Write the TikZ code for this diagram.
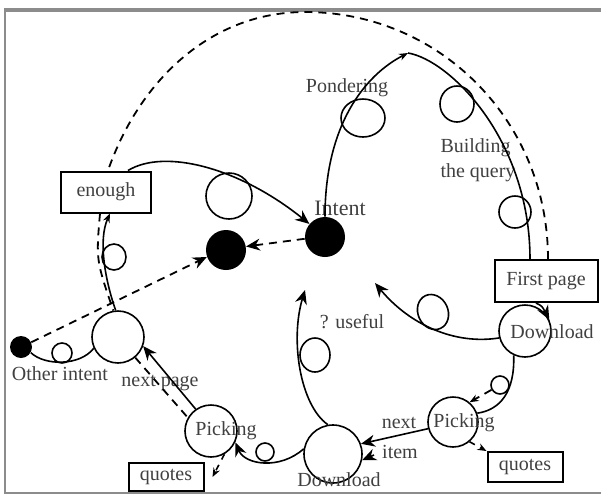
\documentclass[tikz,border=0pt]{standalone}
\usepackage{fontspec}
\setmainfont{Liberation Serif}
\usetikzlibrary{arrows.meta,shapes.geometric}
\begin{document}
\begin{tikzpicture}[x=0.5pt,y=-0.5pt,
  sl/.style={line width=0.8pt},
  tip/.style={-{Stealth[length=7pt,width=6pt]}},
  smalltip/.style={-{Stealth[length=4.5pt,width=3.5pt]}},
  dsh/.style={line width=0.9pt,dash pattern=on 4pt off 3pt},
  lbl/.style={font=\fontsize{10}{12.5}\selectfont,text=black!75,inner sep=0pt},
  dot/.style={circle,fill=black,inner sep=0pt},
  ring/.style={circle,draw,line width=0.8pt,inner sep=0pt},
  lp/.style={ellipse,draw,line width=0.8pt,inner sep=0pt},
  box/.style={rectangle,draw,line width=1pt,inner sep=0pt,font=\fontsize{10}{12}\selectfont,text=black!75},
  frame/.style={draw=black!45}
]
\useasboundingbox (0,0) rectangle (601,495);
% frame
\draw[frame,line width=2pt] (4,10) -- (601,10);
\draw[frame,line width=1pt] (5,10) -- (5,493) -- (601,493);

% nodes
\node[dot,minimum size=20pt] (intent) at (325,237) {};
\node[lbl,font=\fontsize{11}{13}\selectfont] (intentl) at (340,208) {Intent};
\node[dot,minimum size=20pt] (goal) at (226,250) {};
\node[dot,minimum size=11pt] (other) at (21,347) {};
\node[lbl] (otherl) at (60,374) {Other intent};
\node[ring,minimum size=26pt] (c0) at (118,337) {};
\node[ring,minimum size=26pt] (pickL) at (211,431) {};
\node[lbl] (pickLl) at (226,431) {Picking};
\node[ring,minimum size=29pt] (dlB) at (333,454) {};
\node[lbl] (dlBl) at (339,480) {Download};
\node[ring,minimum size=25pt] (pickR) at (453,422) {};
\node[lbl] (pickRl) at (464,423) {Picking};
\node[ring,minimum size=26pt] (dlR) at (525,331) {};
\node[lbl] (dlRl) at (552,332) {Download};

\node[box,minimum width=45pt,minimum height=20.5pt,fill=white] (enough) at (106,192) {enough};
\node[box,minimum width=51.5pt,minimum height=21pt,fill=white] (first) at (546,281) {First page};
\node[box,minimum width=37.5pt,minimum height=14pt] (quotesL) at (166,477) {quotes};
\node[box,minimum width=37.5pt,minimum height=15pt] (quotesR) at (525,467) {quotes};

% labels
\node[lbl] (ponder) at (347,88) {Pondering};
\node[lbl,align=left] (build) at (478,160) {Building\\the query};
\node[lbl] (nextpage) at (160,383) {next page};
\node[lbl] (useful) at (352,322) {? useful};
\node[lbl] (nextl) at (399,423) {next};
\node[lbl] (iteml) at (400,452) {item};

% small loops
\node[lp,minimum width=23pt,minimum height=23pt] (lp1) at (229,196) {};
\node[lp,minimum width=22pt,minimum height=19pt] (lp2) at (363,118) {};
\node[lp,minimum width=17pt,minimum height=18pt] (lp3) at (457,104) {};
\node[lp,minimum width=16pt,minimum height=16pt] (lp4) at (515,212) {};
\node[lp,minimum width=12pt,minimum height=13pt] (lp5) at (114,257) {};
\node[lp,minimum width=10pt,minimum height=10pt] (lp6) at (62,353) {};
\node[lp,minimum width=15pt,minimum height=17pt] (lp7) at (315,355) {};
\node[lp,minimum width=15pt,minimum height=18pt,rotate=25] (lp8) at (433,312) {};
\node[lp,minimum width=9pt,minimum height=9pt] (lp9) at (500,385) {};
\node[lp,minimum width=9pt,minimum height=9pt] (lp10) at (265,452) {};

% free coordinates
\coordinate (top) at (408,53);
\coordinate (dtop) at (305,12);
\coordinate (u1) at (375,283);
\coordinate (u2) at (305,290);
\coordinate (it0) at (374,455);

% big dashed loop
\draw[dsh] ([xshift=1pt]first.north) .. controls (548,121) and (440,12) .. (dtop)
  .. controls (212,12) and (140,79) .. ([xshift=1pt]enough.north);
\draw[dsh] ([xshift=-3pt]enough.south) .. controls (96,260) .. (c0.100);
\draw[dsh] (c0.-50) -- (pickL.150);
\draw[dsh,tip] (other.25) -- (goal.200);
\draw[dsh,tip] (intent.185) -- (goal.10);
\draw[dsh,smalltip] (lp9) -- (pickR.50);
\draw[sl,dashed,smalltip] (pickL.-60) -- ([xshift=4pt]quotesL.east);
\draw[sl,dashed,smalltip] (pickR.-50) -- (quotesR.north west);

% solid curves
\draw[sl,tip] ([xshift=11pt]enough.north) .. controls (165,148) and (240,168) .. (intent.140);
\draw[sl,smalltip] (intent.north) .. controls (325,125) and (365,75) .. (top);
\draw[sl] (top) .. controls (450,60) and (530,140) .. ([xshift=-8pt]first.north);
\draw[sl,tip] ([xshift=-5pt]first.south) .. controls (542,306) .. (dlR.25);
\draw[sl,tip] (dlR.195) .. controls (455,345) and (410,325) .. (u1);
\draw[sl] (dlR.245) .. controls (515,392) and (500,410) .. (pickR.20);
\draw[sl,tip] (pickR.195) -- (dlB.20);
\draw[sl,tip] (it0) -- (dlB.-12);
\draw[sl,tip] (dlB.100) .. controls (300,405) and (290,340) .. (u2);
\draw[sl,tip] (dlB.170) .. controls (280,470) and (245,465) .. (pickL.-25);
\draw[sl,tip] (pickL.125) -- (c0.-20);
\draw[sl,smalltip] (c0.95) .. controls (105,280) and (98,240) .. ([xshift=2pt]enough.south);
\draw[sl] (other.-30) .. controls (45,366) and (80,366) .. (c0.205);
\end{tikzpicture}
\end{document}
